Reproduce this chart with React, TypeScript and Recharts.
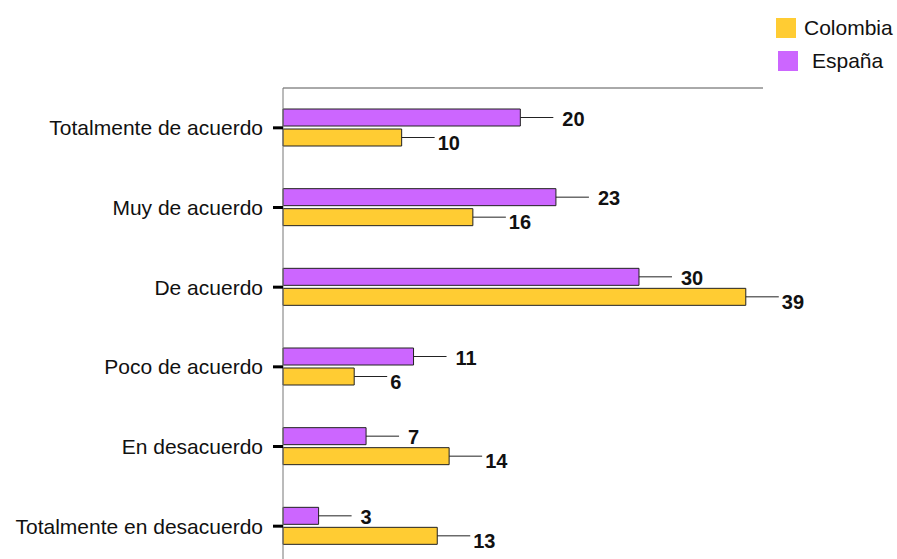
import React from 'react';
import { BarChart, Bar, XAxis, YAxis, LabelList, Legend } from 'recharts';

// Response categories, top to bottom
const categories = [
  'Totalmente de acuerdo',
  'Muy de acuerdo',
  'De acuerdo',
  'Poco de acuerdo',
  'En desacuerdo',
  'Totalmente en desacuerdo',
];

// Percentages per country
const espana = [20, 23, 30, 11, 7, 3];
const colombia = [10, 16, 39, 6, 14, 13];

const legendOrder = ['Colombia', 'España'];
const colors: Record<string, string> = { Colombia: '#FFCC33', 'España': '#CC66FF' };

const data = categories.map((c, i) => ({ categoria: c, Colombia: colombia[i], 'España': espana[i] }));

const FONT = '"Liberation Sans", Arial, Helvetica, sans-serif';

// Leader line from the bar end followed by a bold value
const makeLabel = (gap: number, dy: number) => (props: any) => {
  const { x, y, width, height, value } = props;
  const x0 = Number(x) + Number(width);
  const cy = Number(y) + Number(height) / 2;
  return (
    <g>
      <line x1={x0} y1={cy} x2={x0 + 33} y2={cy} stroke="#222" strokeWidth={1} />
      <text
        x={x0 + 33 + gap}
        y={cy + dy}
        dominantBaseline="central"
        fontSize={20}
        fontWeight="bold"
        fill="#111"
        fontFamily={FONT}
      >
        {value}
      </text>
    </g>
  );
};

const renderLegend = () => (
  <div style={{ fontFamily: FONT, fontSize: 21, color: '#111' }}>
    {legendOrder.map((name, i) => (
      <div
        key={name}
        style={{
          display: 'flex',
          alignItems: 'center',
          height: 20,
          marginBottom: 13,
          marginLeft: i === 0 ? 0 : 2,
          whiteSpace: 'nowrap',
        }}
      >
        <span style={{ width: 20, height: 20, flexShrink: 0, background: colors[name], display: 'inline-block' }} />
        <span style={{ marginLeft: i === 0 ? 8 : 14, lineHeight: '20px', flexShrink: 0 }}>{name}</span>
      </div>
    ))}
  </div>
);

export default function App() {
  return (
    <>
      <style>{'html,body{margin:0;padding:0;overflow:hidden;background:#fff}'}</style>
      <div style={{ width: 897, height: 559, overflow: 'hidden', position: 'relative', background: '#fff' }}>
        <div style={{ position: 'absolute', left: 8, top: 8 }}>
          <BarChart
            width={889}
            height={600}
            data={data}
            layout="vertical"
            margin={{ top: 79, right: 134, bottom: 42, left: 0 }}
            barGap={3}
          >
            <XAxis
              type="number"
              orientation="top"
              domain={[0, 40.45]}
              height={1}
              tick={false}
              tickLine={false}
              axisLine={{ stroke: '#555', strokeWidth: 1 }}
            />
            <YAxis
              type="category"
              dataKey="categoria"
              width={275}
              tickSize={10}
              tickMargin={10}
              tickLine={{ stroke: '#000', strokeWidth: 3 }}
              axisLine={{ stroke: '#777', strokeWidth: 1 }}
              tick={{ fill: '#111', fontSize: 21, fontFamily: FONT }}
              interval={0}
            />
            <Legend
              layout="vertical"
              align="center"
              verticalAlign="middle"
              wrapperStyle={{ left: 768, top: 10, width: 121, overflow: 'visible' }}
              content={renderLegend}
            />
            <Bar dataKey="España" fill={colors['España']} stroke="#222" strokeWidth={1} barSize={17} isAnimationActive={false}>
              <LabelList dataKey="España" content={makeLabel(9, 1)} />
            </Bar>
            <Bar dataKey="Colombia" fill={colors.Colombia} stroke="#222" strokeWidth={1} barSize={17} isAnimationActive={false}>
              <LabelList dataKey="Colombia" content={makeLabel(3, 5)} />
            </Bar>
          </BarChart>
        </div>
      </div>
    </>
  );
}
